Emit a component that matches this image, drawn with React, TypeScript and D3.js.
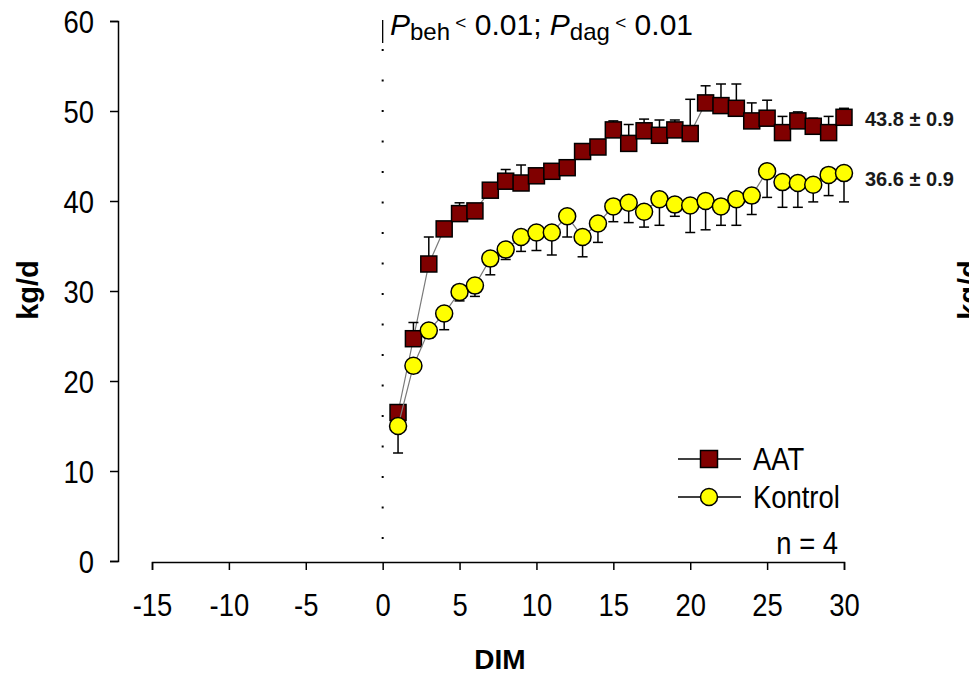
import React, { useEffect, useRef } from 'react';
import * as d3 from 'd3';

const days = [1, 2, 3, 4, 5, 6, 7, 8, 9, 10, 11, 12, 13, 14, 15, 16, 17, 18, 19, 20, 21, 22, 23, 24, 25, 26, 27, 28, 29, 30];
const aatMean = [16.5, 24.7, 33.0, 36.9, 38.6, 38.9, 41.2, 42.2, 42.0, 42.8, 43.3, 43.7, 45.5, 46.0, 47.9, 46.4, 47.8, 47.3, 47.9, 47.5, 50.9, 50.6, 50.3, 48.9, 49.2, 47.6, 48.9, 48.3, 47.6, 49.3];
const aatErr = [0.5, 1.8, 3.0, 0.5, 1.2, 0.5, 0.8, 1.3, 2.0, 0.5, 0.5, 0.5, 0.5, 0.5, 1.0, 2.1, 1.3, 1.7, 1.1, 3.8, 1.9, 2.4, 2.7, 2.0, 2.0, 1.8, 1.0, 0.9, 1.8, 1.0];
const kontrolMean = [15.0, 21.7, 25.6, 27.5, 29.9, 30.6, 33.6, 34.6, 36.0, 36.5, 36.5, 38.3, 36.0, 37.5, 39.4, 39.8, 38.8, 40.2, 39.6, 39.5, 40.0, 39.4, 40.2, 40.6, 43.3, 42.1, 42.0, 41.8, 42.9, 43.1];
const kontrolErr = [3.0, 0.8, 0.8, 1.8, 1.0, 1.2, 1.8, 1.1, 1.6, 2.0, 2.5, 2.3, 2.2, 2.1, 1.7, 2.2, 1.7, 2.9, 1.3, 3.0, 3.2, 2.1, 2.9, 2.1, 2.9, 2.8, 2.7, 1.9, 2.3, 3.2];
const xTicks = [-15, -10, -5, 0, 5, 10, 15, 20, 25, 30];
const yTicks = [0, 10, 20, 30, 40, 50, 60];
const seriesNames = ['AAT', 'Kontrol'];
const endLabels = ['43.8 ± 0.9', '36.6 ± 0.9'];

const W = 969;
const H = 675;
const FONT = "'Liberation Sans', Arial, Helvetica, sans-serif";
const SX = 0.87;
const TICK_FS = 31.5;

const x = d3.scaleLinear().domain([-15, 30]).range([152, 844]);
const y = d3.scaleLinear().domain([0, 60]).range([561, 21]);

const line = d3
  .line<number>()
  .x((_, i) => x(days[i]))
  .y((d) => y(d));

function NarrowText({ tx, ty, anchor = 'start', size = TICK_FS, children }: any) {
  return (
    <g transform={`translate(${tx},${ty}) scale(${SX},1)`}>
      <text x={0} y={0} fontSize={size} fontFamily={FONT} fill="#000" textAnchor={anchor}>
        {children}
      </text>
    </g>
  );
}

export default function App() {
  const xAxisRef = useRef<SVGGElement>(null);
  const yAxisRef = useRef<SVGGElement>(null);

  useEffect(() => {
    const gy = d3.select(yAxisRef.current!);
    gy.call(
      d3
        .axisLeft(y)
        .tickValues(yTicks)
        .tickSize(8)
        .tickFormat((d) => String(d))
    );
    gy.select('.domain').attr('stroke', '#000').attr('stroke-width', 1.5);
    gy.selectAll('.tick line').attr('stroke', '#000').attr('stroke-width', 1.5);
    gy.selectAll('.tick text')
      .attr('font-size', TICK_FS)
      .attr('font-family', FONT)
      .attr('fill', '#000')
      .attr('x', -24 / SX)
      .attr('dy', '0.36em')
      .attr('transform', `scale(${SX},1)`);

    const gx = d3.select(xAxisRef.current!);
    gx.call(
      d3
        .axisBottom(x)
        .tickValues(xTicks)
        .tickSize(8)
        .tickFormat((d) => String(d))
    );
    gx.select('.domain').attr('stroke', '#000').attr('stroke-width', 1.5);
    gx.selectAll('.tick line').attr('stroke', '#000').attr('stroke-width', 1.5);
    gx.selectAll('.tick text')
      .attr('font-size', TICK_FS)
      .attr('font-family', FONT)
      .attr('fill', '#000')
      .attr('y', 54)
      .attr('dy', 0)
      .attr('transform', `scale(${SX},1)`);
  }, []);

  const sq = 16;
  const r = 8.5;
  const cap = 5;

  return (
    <svg
      width={W}
      height={H}
      viewBox={`0 0 ${W} ${H}`}
      style={{ position: 'absolute', left: 0, top: 0, background: '#fff' }}
    >
      <rect x={0} y={0} width={W} height={H} fill="#fff" />

      {/* vertical reference at day 0 */}
      <line x1={x(0)} x2={x(0)} y1={20} y2={43} stroke="#000" strokeWidth={1.3} />
      <line
        x1={x(0)}
        x2={x(0)}
        y1={49}
        y2={545}
        stroke="#000"
        strokeWidth={2}
        strokeDasharray="2 28.5"
      />

      <g ref={yAxisRef} transform="translate(118,0)" />
      <g ref={xAxisRef} transform="translate(0,562)" />

      {/* annotation */}
      <text x={390} y={35} fontSize={30} fontFamily={FONT} fill="#000" style={{ whiteSpace: 'pre' }}>
        <tspan fontStyle="italic">P</tspan>
        <tspan fontSize={24} dy={5}>beh</tspan>
        <tspan fontSize={19} dy={-11}>{' <'}</tspan>
        <tspan fontSize={30} dy={6}>{' 0.01; '}</tspan>
        <tspan fontStyle="italic">P</tspan>
        <tspan fontSize={24} dy={5}>dag</tspan>
        <tspan fontSize={19} dy={-11}>{' <'}</tspan>
        <tspan fontSize={30} dy={6}>{' 0.01'}</tspan>
      </text>

      {/* AAT */}
      <path d={line(aatMean)!} fill="none" stroke="#7a7a7a" strokeWidth={1.2} />
      {aatMean.map((v, i) => (
        <g key={'ae' + i} stroke="#000" strokeWidth={1.5}>
          <line x1={x(days[i])} x2={x(days[i])} y1={y(v)} y2={y(v + aatErr[i])} />
          <line x1={x(days[i]) - cap} x2={x(days[i]) + cap} y1={y(v + aatErr[i])} y2={y(v + aatErr[i])} />
        </g>
      ))}
      {aatMean.map((v, i) => (
        <rect
          key={'am' + i}
          x={x(days[i]) - sq / 2}
          y={y(v) - sq / 2}
          width={sq}
          height={sq}
          fill="#800000"
          stroke="#000"
          strokeWidth={1.5}
        />
      ))}

      {/* Kontrol */}
      <path d={line(kontrolMean)!} fill="none" stroke="#7a7a7a" strokeWidth={1.2} />
      {kontrolMean.map((v, i) => (
        <g key={'ke' + i} stroke="#000" strokeWidth={1.5}>
          <line x1={x(days[i])} x2={x(days[i])} y1={y(v)} y2={y(v - kontrolErr[i])} />
          <line
            x1={x(days[i]) - cap}
            x2={x(days[i]) + cap}
            y1={y(v - kontrolErr[i])}
            y2={y(v - kontrolErr[i])}
          />
        </g>
      ))}
      {kontrolMean.map((v, i) => (
        <circle key={'km' + i} cx={x(days[i])} cy={y(v)} r={r} fill="#ffff00" stroke="#000" strokeWidth={1.5} />
      ))}

      {/* end labels */}
      <text x={865} y={126} fontSize={20} fontWeight="bold" fontFamily={FONT} fill="#1a1a1a">
        {endLabels[0]}
      </text>
      <text x={865} y={186} fontSize={20} fontWeight="bold" fontFamily={FONT} fill="#1a1a1a">
        {endLabels[1]}
      </text>

      {/* legend */}
      <line x1={678} x2={741} y1={459} y2={459} stroke="#000" strokeWidth={1.5} />
      <rect x={709 - 8.5} y={459 - 8.5} width={17} height={17} fill="#800000" stroke="#000" strokeWidth={1.5} />
      <NarrowText tx={753} ty={470}>{seriesNames[0]}</NarrowText>
      <line x1={678} x2={741} y1={497} y2={497} stroke="#000" strokeWidth={1.5} />
      <circle cx={709} cy={497} r={8.5} fill="#ffff00" stroke="#000" strokeWidth={1.5} />
      <NarrowText tx={753} ty={508}>{seriesNames[1]}</NarrowText>
      <NarrowText tx={838} ty={554} anchor="end">n = 4</NarrowText>

      {/* axis titles */}
      <text
        transform="translate(38,290) rotate(-90)"
        textAnchor="middle"
        fontSize={29}
        fontWeight="bold"
        fontFamily={FONT}
        fill="#000"
      >
        kg/d
      </text>
      <text x={500} y={669} textAnchor="middle" fontSize={28} fontWeight="bold" fontFamily={FONT} fill="#000">
        DIM
      </text>

      {/* neighbouring panel's axis title, clipped at the edge as in the reference */}
      <text
        transform="translate(979,290) rotate(-90)"
        textAnchor="middle"
        fontSize={29}
        fontWeight="bold"
        fontFamily={FONT}
        fill="#000"
      >
        kg/d
      </text>
    </svg>
  );
}
